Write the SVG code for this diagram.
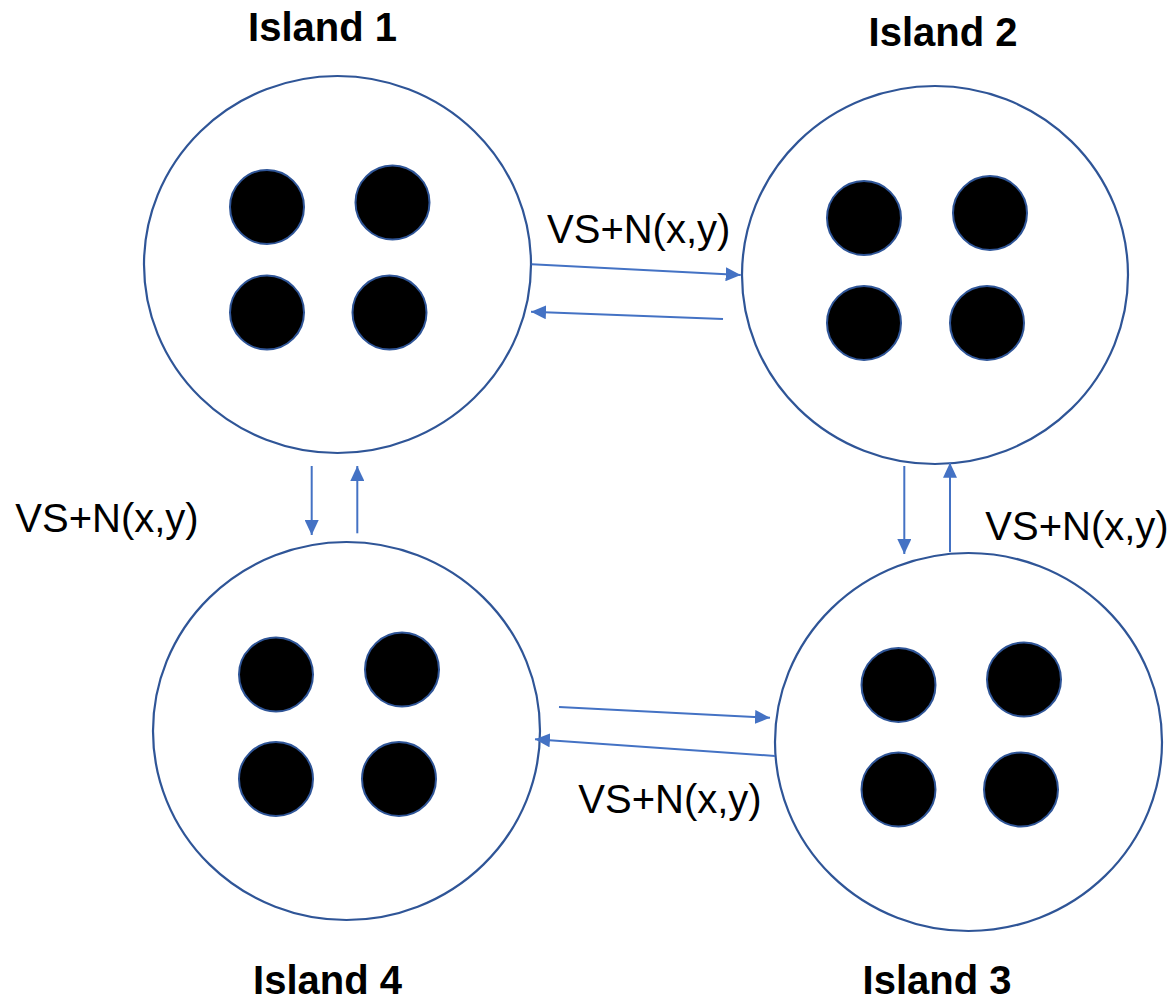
<svg xmlns="http://www.w3.org/2000/svg" width="1174" height="1000" viewBox="0 0 1174 1000">
<style>
.island{fill:#ffffff;stroke:#2F5597;stroke-width:2.2}
.dot{fill:#000000;stroke:#2F5597;stroke-width:2}
.title{font-family:"Liberation Sans",Arial,sans-serif;font-weight:bold;font-size:40px;fill:#000}
.lbl{font-family:"Liberation Sans",Arial,sans-serif;font-size:40px;fill:#000}
.conn{stroke:#4472C4;stroke-width:2;fill:none;marker-end:url(#ah)}
</style>
<defs>
<marker id="ah" markerUnits="userSpaceOnUse" markerWidth="16" markerHeight="14" refX="15" refY="7" orient="auto">
<path d="M0,0 L15,7 L0,14 z" fill="#4472C4"/>
</marker>
</defs>
<rect width="1174" height="1000" fill="#ffffff"/>
<g id="island1">
<ellipse class="island" cx="337.5" cy="264.5" rx="193.5" ry="188.5"/>
<circle class="dot" cx="267" cy="207" r="37"/>
<circle class="dot" cx="392.5" cy="202.5" r="37"/>
<circle class="dot" cx="267" cy="312.5" r="37"/>
<circle class="dot" cx="389.5" cy="312.5" r="37"/>
<text class="title" x="322.5" y="41" text-anchor="middle">Island 1</text>
</g>
<g id="island2">
<ellipse class="island" cx="935" cy="275" rx="193" ry="189"/>
<circle class="dot" cx="864" cy="218" r="37"/>
<circle class="dot" cx="990" cy="213" r="37"/>
<circle class="dot" cx="864" cy="323" r="37"/>
<circle class="dot" cx="987" cy="323" r="37"/>
<text class="title" x="943" y="46" text-anchor="middle">Island 2</text>
</g>
<g id="island4">
<ellipse class="island" cx="346.5" cy="731" rx="193.5" ry="189"/>
<circle class="dot" cx="276" cy="674.5" r="37"/>
<circle class="dot" cx="402" cy="669.5" r="37"/>
<circle class="dot" cx="276" cy="779" r="37"/>
<circle class="dot" cx="399" cy="779" r="37"/>
<text class="title" x="327.5" y="994" text-anchor="middle">Island 4</text>
</g>
<g id="island3">
<ellipse class="island" cx="968.5" cy="742" rx="193.5" ry="189"/>
<circle class="dot" cx="898.5" cy="685" r="37"/>
<circle class="dot" cx="1024" cy="679.5" r="37"/>
<circle class="dot" cx="898.5" cy="789.5" r="37"/>
<circle class="dot" cx="1021" cy="789.5" r="37"/>
<text class="title" x="937" y="994" text-anchor="middle">Island 3</text>
</g>
<g id="connectors">
<line class="conn" x1="531.7" y1="264.3" x2="740.7" y2="275"/>
<line class="conn" x1="723" y1="319" x2="531" y2="311.7"/>
<line class="conn" x1="311.7" y1="466" x2="311.7" y2="535"/>
<line class="conn" x1="357.3" y1="533.3" x2="357.3" y2="466"/>
<line class="conn" x1="904.3" y1="466" x2="904.3" y2="554"/>
<line class="conn" x1="950" y1="552" x2="950" y2="462.7"/>
<line class="conn" x1="559" y1="707" x2="770" y2="717.7"/>
<line class="conn" x1="775" y1="756" x2="535" y2="739.3"/>
</g>
<g id="labels">
<text class="lbl" x="638.7" y="243" text-anchor="middle">VS+N(x,y)</text>
<text class="lbl" x="107" y="532" text-anchor="middle">VS+N(x,y)</text>
<text class="lbl" x="1077" y="540" text-anchor="middle">VS+N(x,y)</text>
<text class="lbl" x="670" y="813" text-anchor="middle">VS+N(x,y)</text>
</g>
</svg>
